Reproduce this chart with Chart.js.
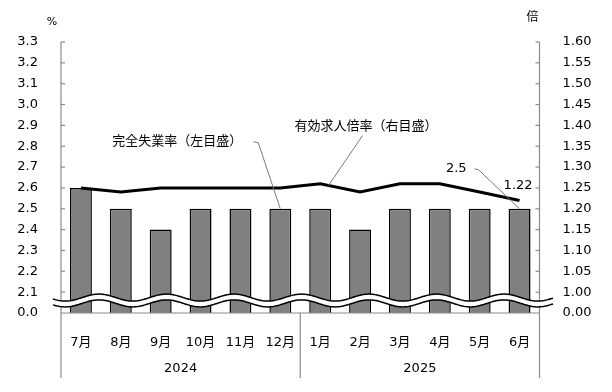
<!DOCTYPE html>
<html lang="ja">
<head>
<meta charset="utf-8">
<title>完全失業率・有効求人倍率</title>
<script src="https://cdn.jsdelivr.net/npm/chart.js@4.4.1/dist/chart.umd.min.js"></script>
<style>
  html, body { margin: 0; padding: 0; background: #fff; }
  canvas { display: block; }
</style>
</head>
<body>
<canvas id="chart" width="612" height="392"></canvas>
<script>
const months = ["7月", "8月", "9月", "10月", "11月", "12月", "1月", "2月", "3月", "4月", "5月", "6月"];
const years = ["2024", "2025"];
const monthsPerYear = [6, 6];
const unemploymentRate = [2.6, 2.5, 2.4, 2.5, 2.5, 2.5, 2.5, 2.4, 2.5, 2.5, 2.5, 2.5];
const jobOpeningsRatio = [1.25, 1.24, 1.25, 1.25, 1.25, 1.25, 1.26, 1.24, 1.26, 1.26, 1.24, 1.22];

// the lowest tick sits under the wavy break and stands for 0
const leftTicks = [2.0, 2.1, 2.2, 2.3, 2.4, 2.5, 2.6, 2.7, 2.8, 2.9, 3.0, 3.1, 3.2, 3.3];
const leftTickLabels = ["0.0", "2.1", "2.2", "2.3", "2.4", "2.5", "2.6", "2.7", "2.8", "2.9", "3.0", "3.1", "3.2", "3.3"];
const rightTicks = [0.95, 1.0, 1.05, 1.1, 1.15, 1.2, 1.25, 1.3, 1.35, 1.4, 1.45, 1.5, 1.55, 1.6];
const rightTickLabels = ["0.00", "1.00", "1.05", "1.10", "1.15", "1.20", "1.25", "1.30", "1.35", "1.40", "1.45", "1.50", "1.55", "1.60"];

const FONT_FAMILY = "'DejaVu Sans', 'Noto Sans CJK JP', sans-serif";
const AXIS_COLOR = "#8a8a8a";
const LEADER_COLOR = "#7a7a7a";

function line(ctx, pts) {
  ctx.beginPath();
  ctx.moveTo(pts[0][0], pts[0][1]);
  for (let i = 1; i < pts.length; i++) ctx.lineTo(pts[i][0], pts[i][1]);
  ctx.stroke();
}

const decorPlugin = {
  id: "decor",
  afterDraw(chart) {
    const ctx = chart.ctx;
    const area = chart.chartArea;
    const x = chart.scales.x;
    const yL = chart.scales.y;
    const yR = chart.scales.y2;
    const catW = (area.right - area.left) / months.length;

    ctx.save();

    // axis lines, extended below the plot to frame the year groups
    ctx.strokeStyle = AXIS_COLOR;
    ctx.lineWidth = 1.2;
    const lowEnd = area.bottom + 65;
    line(ctx, [[area.left, area.top], [area.left, lowEnd]]);
    line(ctx, [[area.right, area.top], [area.right, lowEnd]]);
    line(ctx, [[area.left, area.bottom], [area.right, area.bottom]]);

    // inward tick marks
    leftTicks.slice(1).forEach((v) => {
      const py = yL.getPixelForValue(v);
      line(ctx, [[area.left, py], [area.left + 4, py]]);
    });
    rightTicks.slice(1).forEach((v) => {
      const py = yR.getPixelForValue(v);
      line(ctx, [[area.right - 4, py], [area.right, py]]);
    });

    // year groups
    ctx.fillStyle = "#000";
    ctx.font = "13px " + FONT_FAMILY;
    ctx.textAlign = "center";
    ctx.textBaseline = "middle";
    let start = 0;
    years.forEach((yr, i) => {
      const n = monthsPerYear[i];
      const gx0 = area.left + start * catW;
      const gx1 = area.left + (start + n) * catW;
      ctx.fillText(yr, (gx0 + gx1) / 2, area.bottom + 56);
      if (start > 0) line(ctx, [[gx0, area.bottom], [gx0, lowEnd]]);
      start += n;
    });

    // wavy break across the lower part of the plot
    const waveY = yL.getPixelForValue(2.06);
    const amp = 3.5, period = 67.5, gap = 2.9;
    const phase = area.left + 38;
    const wx0 = area.left - 8, wx1 = area.right + 14;
    const wy = (px) => waveY - amp * Math.cos((2 * Math.PI * (px - phase)) / period);
    ctx.beginPath();
    for (let px = wx0; px <= wx1; px += 1) {
      if (px === wx0) ctx.moveTo(px, wy(px) - gap);
      else ctx.lineTo(px, wy(px) - gap);
    }
    for (let px = wx1; px >= wx0; px -= 1) ctx.lineTo(px, wy(px) + gap);
    ctx.closePath();
    ctx.fillStyle = "#fff";
    ctx.fill();
    ctx.strokeStyle = "#000";
    ctx.lineWidth = 1.5;
    [-gap, gap].forEach((off) => {
      ctx.beginPath();
      for (let px = wx0; px <= wx1; px += 1) {
        if (px === wx0) ctx.moveTo(px, wy(px) + off);
        else ctx.lineTo(px, wy(px) + off);
      }
      ctx.stroke();
    });

    // unit labels
    ctx.fillStyle = "#000";
    ctx.font = "11px " + FONT_FAMILY;
    ctx.textAlign = "center";
    ctx.fillText("%", area.left - 9, area.top - 20);
    ctx.font = "12px " + FONT_FAMILY;
    ctx.fillText("倍", area.right - 7, area.top - 24);

    // annotations with leader lines
    const last = months.length - 1;
    ctx.font = "13px " + FONT_FAMILY;
    ctx.strokeStyle = LEADER_COLOR;
    ctx.lineWidth = 1;

    let ax = x.getPixelForValue(5);
    let ay = yL.getPixelForValue(unemploymentRate[5]);
    ctx.textAlign = "right";
    ctx.fillText("完全失業率（左目盛）", ax - 38, ay - 67);
    line(ctx, [[ax - 27, ay - 67], [ax - 22, ay - 66], [ax, ay]]);

    const p1x = x.getPixelForValue(6), p1y = yR.getPixelForValue(jobOpeningsRatio[6]);
    const p2x = x.getPixelForValue(7), p2y = yR.getPixelForValue(jobOpeningsRatio[7]);
    ax = p1x + (p2x - p1x) * 0.21;
    ay = p1y + (p2y - p1y) * 0.21;
    ctx.textAlign = "left";
    ctx.fillText("有効求人倍率（右目盛）", ax - 34, ay - 59);
    line(ctx, [[ax + 34, ay - 50], [ax, ay]]);

    ax = x.getPixelForValue(last);
    ay = yL.getPixelForValue(unemploymentRate[last]);
    ctx.textAlign = "right";
    ctx.fillText(unemploymentRate[last].toFixed(1), ax - 53, ay - 40);
    line(ctx, [[ax - 45, ay - 40], [ax - 41, ay - 39], [ax, ay]]);

    ay = yR.getPixelForValue(jobOpeningsRatio[last]);
    ctx.fillText(jobOpeningsRatio[last].toFixed(2), ax + 13, ay - 15);

    ctx.restore();
  },
};

const tickFont = { family: FONT_FAMILY, size: 13 };

new Chart(document.getElementById("chart").getContext("2d"), {
  type: "bar",
  data: {
    labels: months,
    datasets: [
      {
        type: "line",
        label: "有効求人倍率",
        data: jobOpeningsRatio,
        yAxisID: "y2",
        borderColor: "#000",
        borderWidth: 3,
        pointRadius: 0,
        tension: 0,
        fill: false,
        order: 0,
      },
      {
        type: "bar",
        label: "完全失業率",
        data: unemploymentRate,
        yAxisID: "y",
        backgroundColor: "#808080",
        borderColor: "#000",
        borderWidth: 1.5,
        barPercentage: 0.55,
        categoryPercentage: 1,
        order: 1,
      },
    ],
  },
  options: {
    responsive: false,
    animation: false,
    layout: { padding: { top: 42, left: 0, right: 0, bottom: 0 } },
    plugins: { legend: { display: false }, tooltip: { enabled: false } },
    scales: {
      x: {
        grid: { display: false },
        border: { display: false },
        ticks: { font: tickFont, color: "#000", padding: 14, maxRotation: 0, autoSkip: false },
        afterFit: (s) => { s.height = 79; },
      },
      y: {
        position: "left",
        min: 2.0,
        max: 3.3,
        grid: { display: false },
        border: { display: false },
        ticks: { font: tickFont, color: "#000", padding: 15, callback: (v, i) => leftTickLabels[i] },
        afterBuildTicks: (s) => { s.ticks = leftTicks.map((v) => ({ value: v })); },
        afterFit: (s) => { s.width = 61; },
      },
      y2: {
        position: "right",
        min: 0.95,
        max: 1.6,
        grid: { display: false },
        border: { display: false },
        ticks: { font: tickFont, color: "#000", padding: 15, callback: (v, i) => rightTickLabels[i] },
        afterBuildTicks: (s) => { s.ticks = rightTicks.map((v) => ({ value: v })); },
        afterFit: (s) => { s.width = 72.5; },
      },
    },
  },
  plugins: [decorPlugin],
});
</script>
</body>
</html>
